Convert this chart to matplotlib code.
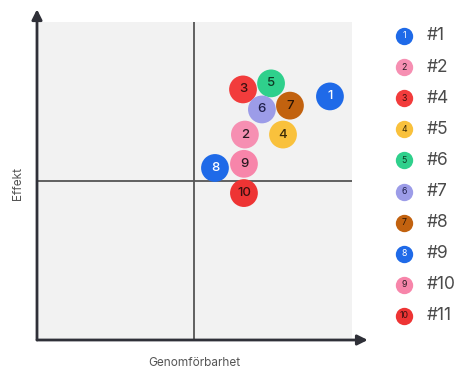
import matplotlib.pyplot as plt

plt.rcParams['font.family'] = ['Inter', 'DejaVu Sans']

# punkter i matrisen (genomförbarhet, effekt) på skala 0-10
nummer = [1, 2, 3, 4, 5, 6, 7, 8, 9, 10]
namn = ['#1', '#2', '#4', '#5', '#6', '#7', '#8', '#9', '#10', '#11']
genomforbarhet = [9.30, 6.60, 6.54, 7.81, 7.43, 7.14, 8.03, 5.65, 6.57, 6.57]
effekt = [7.66, 6.46, 7.88, 6.46, 8.07, 7.25, 7.37, 5.41, 5.54, 4.62]
farger = ['#1f6ae8', '#f68fb2', '#f23c3c', '#f9c13c', '#2fd08c',
          '#9c9ce8', '#c2620f', '#1f6ae8', '#f785aa', '#ee3434']
textfarg = ['white', '#2a1a22', '#3a1010', '#3a2a08', '#0f3a25',
            '#1e1e4a', '#2a1505', 'white', '#2a1a22', '#3a1010']

fig = plt.figure(figsize=(4.6, 3.72), dpi=100)
ax = fig.add_axes([37/460, 32/372, 315/460, 318/372])
ax.set_facecolor('#f2f2f2')
ax.set_xlim(0, 10)
ax.set_ylim(0, 10)
for s in ax.spines.values():
    s.set_visible(False)
ax.set_xticks([])
ax.set_yticks([])

# mittlinjer
ax.axvline(5, color='#555555', lw=1.3, zorder=1)
ax.axhline(5, color='#555555', lw=1.3, zorder=1)

# axlar med pilar
ax.annotate('', xy=(10.5, 0), xytext=(0, 0), annotation_clip=False,
            arrowprops=dict(arrowstyle='-|>,head_length=0.6,head_width=0.3',
                            color='#2f3038', lw=2, shrinkA=0, shrinkB=0))
ax.annotate('', xy=(0, 10.4), xytext=(0, 0), annotation_clip=False,
            arrowprops=dict(arrowstyle='-|>,head_length=0.6,head_width=0.3',
                            color='#2f3038', lw=2, shrinkA=0, shrinkB=0))

ax.scatter(genomforbarhet, effekt, s=400, c=farger, zorder=3, linewidths=0)
for x, y, n, tc in zip(genomforbarhet, effekt, nummer, textfarg):
    ax.text(x, y, str(n), ha='center', va='center', fontsize=9.5,
            color=tc, zorder=4, fontweight='medium')

fig.text(194/460, 1 - 363/372, 'Genomförbarhet', ha='center', va='center',
         fontsize=8.5, color='#555555')
fig.text(18/460, 1 - 184/372, 'Effekt', ha='center', va='center',
         rotation=90, fontsize=8.5, color='#555555')

# förklaring till höger
lax = fig.add_axes([385/460, 15/372, 75/460, 340/372])
lax.set_xlim(0, 75)
lax.set_ylim(340, 0)
lax.axis('off')
for i, (n, lab, f, tc) in enumerate(zip(nummer, namn, farger, textfarg)):
    y = 19 + i * 31.1
    lax.plot(19, y, 'o', ms=12.5, color=f, mew=0)
    lax.text(19, y, str(n), ha='center', va='center', fontsize=6.3, color=tc)
    lax.text(42, y, lab, ha='left', va='center', fontsize=12.5,
             color='#4a4a4a')

fig.savefig('out.png', dpi=100)
